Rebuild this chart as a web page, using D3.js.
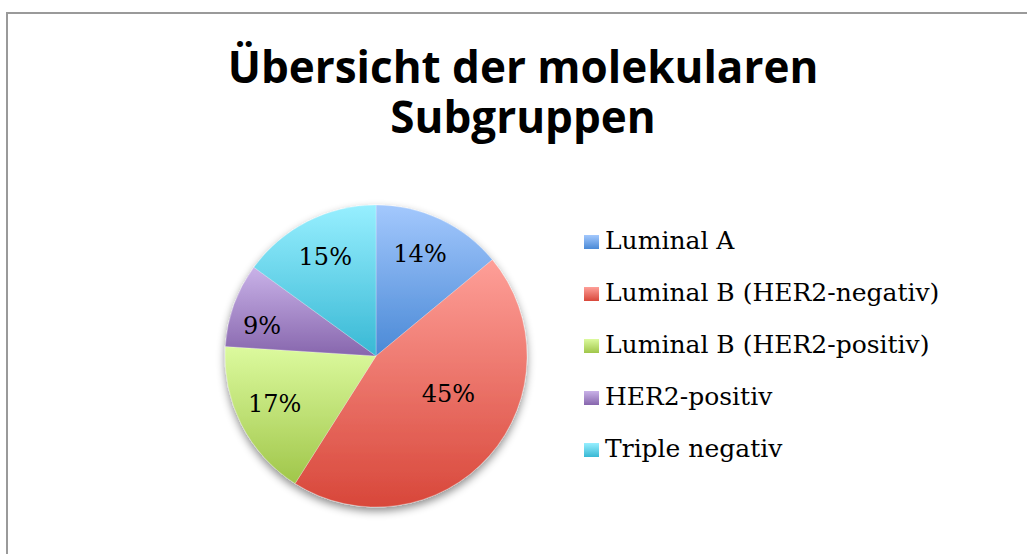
<!DOCTYPE html>
<html>
<head>
<meta charset="utf-8">
<script src="https://cdn.jsdelivr.net/npm/d3@7"></script>
<style>
  body { margin: 0; background: #fff; }
  svg { display: block; }
</style>
</head>
<body>
<svg id="chart"></svg>
<script>
// Data
const categories = ["Luminal A", "Luminal B (HER2-negativ)", "Luminal B (HER2-positiv)", "HER2-positiv", "Triple negativ"];
const shares = [14, 45, 17, 9, 15];
const colorTop = ["#a3c8fd", "#fe9f98", "#dcfa9e", "#c9b2e8", "#97efff"];
const colorBottom = ["#4a89d6", "#d8473a", "#a0c64a", "#8766ad", "#38b8d4"];
const titleLines = ["Übersicht der molekularen", "Subgruppen"];

const W = 1027, H = 554;
const svg = d3.select("#chart").attr("width", W).attr("height", H);
const defs = svg.append("defs");

// gradients, lighter at top
categories.forEach((c, i) => {
    const g = defs.append("linearGradient")
        .attr("id", "grad" + i)
        .attr("x1", 0).attr("y1", 0).attr("x2", 0).attr("y2", 1);
    g.append("stop").attr("offset", "0%").attr("stop-color", colorTop[i]);
    g.append("stop").attr("offset", "100%").attr("stop-color", colorBottom[i]);
});

defs.append("filter").attr("id", "shadow")
    .attr("x", "-20%").attr("y", "-20%").attr("width", "140%").attr("height", "140%")
    .append("feDropShadow")
    .attr("dx", 0).attr("dy", 4).attr("stdDeviation", 4)
    .attr("flood-color", "#000").attr("flood-opacity", 0.45);

// chart frame
svg.append("path")
    .attr("d", `M7,${H} V13 H${W}`)
    .attr("fill", "none")
    .attr("stroke", "#9a9a9a")
    .attr("stroke-width", 2);

// title, two lines in one text element
svg.append("text")
    .attr("text-anchor", "middle")
    .attr("font-family", "'Open Sans', Lato, sans-serif")
    .attr("font-weight", "bold")
    .attr("font-size", "44px")
    .attr("fill", "#000")
    .selectAll("tspan")
    .data(titleLines)
    .join("tspan")
    .attr("x", 523)
    .attr("y", (d, i) => 83 + i * 50)
    .text(d => d);

// pie
const cx = 376, cy = 356, r = 151;
const pie = d3.pie().sort(null).value(d => d)(shares);
const arc = d3.arc().innerRadius(0).outerRadius(r);

const gPie = svg.append("g").attr("transform", `translate(${cx},${cy})`);

gPie.append("g").attr("filter", "url(#shadow)")
    .selectAll("path")
    .data(pie)
    .join("path")
    .attr("d", arc)
    .attr("fill", (d, i) => `url(#grad${i})`)
    .attr("stroke", "rgba(255,255,255,0.5)")
    .attr("stroke-width", 0.5);

// label placement (Excel best fit): radius fraction and angle shift in degrees
const labelFrac = [0.74, 0.54, 0.74, 0.78, 0.74];
const labelShift = [-2, -14, 2, -5, 0];
gPie.append("g").selectAll("text")
    .data(pie)
    .join("text")
    .attr("transform", (d, i) => {
        const a = (d.startAngle + d.endAngle) / 2 + labelShift[i] * Math.PI / 180;
        const rr = r * labelFrac[i];
        return `translate(${Math.sin(a) * rr},${-Math.cos(a) * rr})`;
    })
    .attr("text-anchor", "middle")
    .attr("dy", "0.35em")
    .attr("font-family", "'DejaVu Serif', serif")
    .attr("font-size", "24px")
    .attr("fill", "#000")
    .text(d => d.data + "%");

// legend
const legend = svg.append("g").attr("transform", "translate(584,0)");
const rowY = d3.scalePoint().domain(categories).range([249, 457]);

const rows = legend.selectAll("g")
    .data(categories)
    .join("g")
    .attr("transform", d => `translate(0,${rowY(d)})`);

rows.append("rect")
    .attr("x", 0).attr("y", -14)
    .attr("width", 15).attr("height", 14)
    .attr("fill", (d, i) => `url(#grad${i})`);

rows.append("text")
    .attr("x", 21).attr("y", 0)
    .attr("font-family", "'DejaVu Serif', serif")
    .attr("font-size", "25px")
    .attr("fill", "#000")
    .text(d => d);
</script>
</body>
</html>
